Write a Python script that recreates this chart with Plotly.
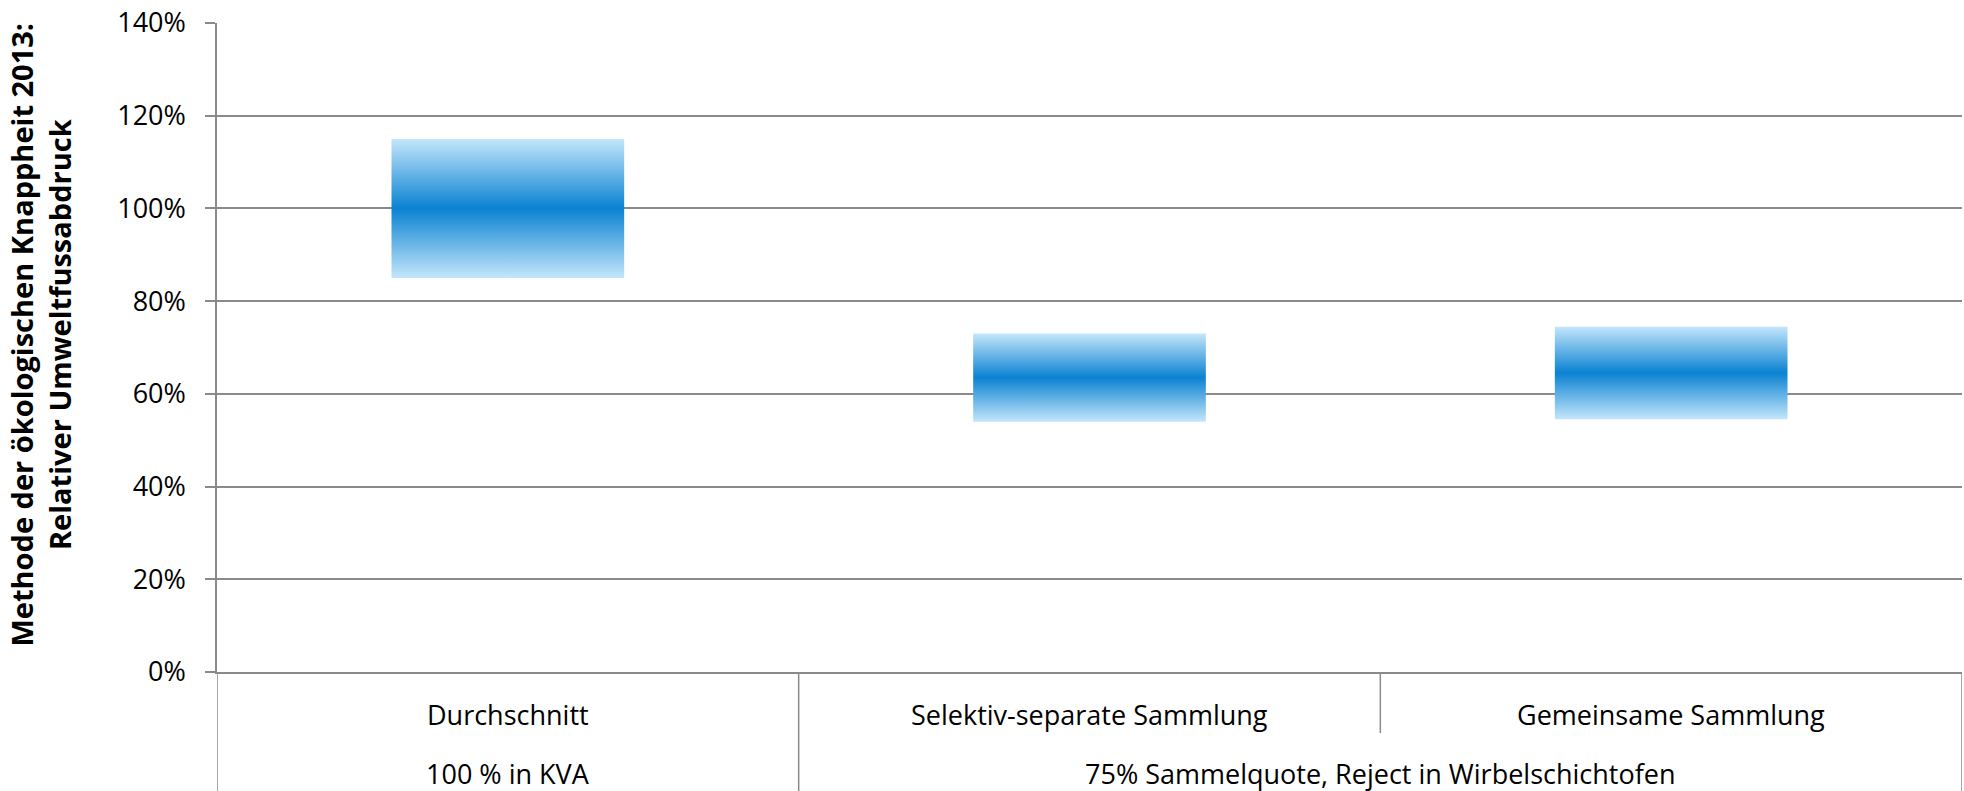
import plotly.graph_objects as go

# ---- data ----
categories = ["Durchschnitt", "Selektiv-separate Sammlung", "Gemeinsame Sammlung"]
groups = ["100 % in KVA",
          "75% Sammelquote, Reject in Wirbelschichtofen",
          "75% Sammelquote, Reject in Wirbelschichtofen"]
low_values = [0.85, 0.54, 0.545]
high_values = [1.15, 0.73, 0.745]
y_ticks = [0, 0.2, 0.4, 0.6, 0.8, 1.0, 1.2, 1.4]

y_title = "Methode der ökologischen Knappheit 2013:<br>Relativer Umweltfussabdruck"

# ---- style ----
W, H = 1964, 791
ML, MR, MT, MB = 217, 2, 23, 119
FONT = "Open Sans"
GRID = "#8a8a8a"
LIGHT = "#C4E6FB"
DARK = "#0A82D2"
BAR_HALF = 0.2
plot_h = H - MT - MB

fig = go.Figure()

for i, (lo, hi) in enumerate(zip(low_values, high_values)):
    fig.add_trace(go.Scatter(
        x=[i - BAR_HALF, i + BAR_HALF, i + BAR_HALF, i - BAR_HALF, i - BAR_HALF],
        y=[lo, lo, hi, hi, lo],
        mode="lines",
        line=dict(width=0, color=LIGHT),
        fill="toself",
        fillgradient=dict(type="vertical",
                          colorscale=[[0, LIGHT], [0.5, DARK], [1, LIGHT]]),
        hoverinfo="skip",
        showlegend=False,
    ))

# category axis area
row_div = -(733 - (H - MB)) / plot_h
bottom = -MB / plot_h - 0.01
row1_y = -(714 - (H - MB)) / plot_h
row2_y = -(773 - (H - MB)) / plot_h

n = len(categories)
line_style = dict(color=GRID, width=1.5)
# left and right borders
for xb in [-0.5, n - 0.5]:
    fig.add_shape(type="line", xref="x", yref="paper", x0=xb, x1=xb,
                  y0=0, y1=bottom, line=line_style)
# inner dividers
for i in range(n - 1):
    full = groups[i] != groups[i + 1]
    fig.add_shape(type="line", xref="x", yref="paper", x0=i + 0.5, x1=i + 0.5,
                  y0=0, y1=bottom if full else row_div, line=line_style)

for i, c in enumerate(categories):
    fig.add_annotation(x=i, y=row1_y, xref="x", yref="paper", text=c,
                       showarrow=False, xanchor="center", yanchor="middle",
                       font=dict(family=FONT, size=27, color="#000000"))

# group labels
seen = []
for g in groups:
    if g not in seen:
        seen.append(g)
for g in seen:
    idx = [i for i, gg in enumerate(groups) if gg == g]
    fig.add_annotation(x=sum(idx) / len(idx), y=row2_y, xref="x", yref="paper",
                       text=g, showarrow=False, xanchor="center", yanchor="middle",
                       font=dict(family=FONT, size=27, color="#000000"))

# y title
fig.add_annotation(x=(41 - ML) / (W - ML - MR), y=0.52, xref="paper", yref="paper",
                   text=y_title, textangle=-90, showarrow=False,
                   xanchor="center", yanchor="middle",
                   font=dict(family=FONT, size=29, color="#000000", weight="bold"))

fig.update_layout(
    width=W, height=H,
    margin=dict(l=ML, r=MR, t=MT, b=MB, pad=0),
    paper_bgcolor="white", plot_bgcolor="white",
    font=dict(family=FONT, size=27, color="#000000"),
    xaxis=dict(range=[-0.5, n - 0.5], showgrid=False, zeroline=False,
               showticklabels=False, ticks="", showline=True,
               linecolor=GRID, linewidth=1.5, fixedrange=True),
    yaxis=dict(range=[0, 1.4], tickvals=y_ticks, tickformat=".0%",
               showgrid=True, gridcolor=GRID, gridwidth=1.5,
               zeroline=False, showline=True, linecolor=GRID, linewidth=1.5,
               ticks="outside", ticklen=10, tickcolor=GRID, tickwidth=1.5,
               ticklabelstandoff=14,
               tickfont=dict(family=FONT, size=27, color="#000000")),
)

fig.write_html("out.html")
